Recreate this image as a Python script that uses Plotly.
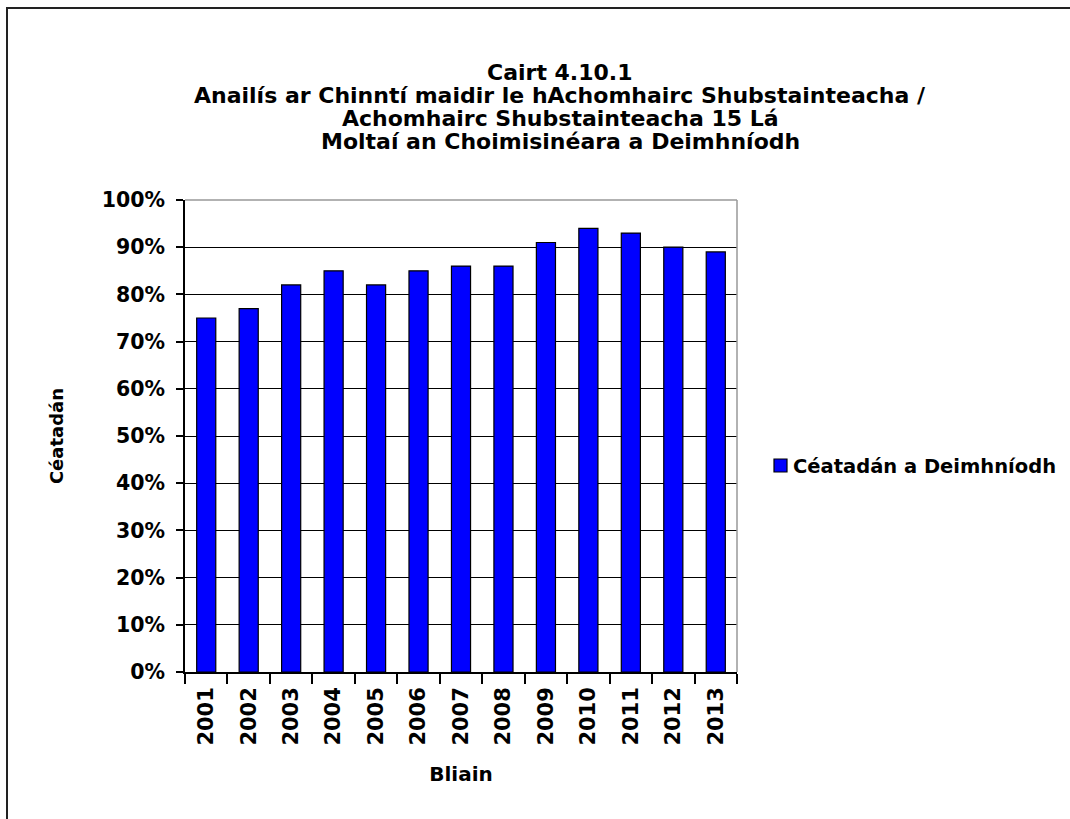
import plotly.graph_objects as go

years = ["2001", "2002", "2003", "2004", "2005", "2006", "2007", "2008", "2009", "2010", "2011", "2012", "2013"]
values = [75, 77, 82, 85, 82, 85, 86, 86, 91, 94, 93, 90, 89]
series_name = "Céatadán a Deimhníodh"
title_lines = ["Cairt 4.10.1",
               "Anailís ar Chinntí maidir le hAchomhairc Shubstainteacha /",
               "Achomhairc Shubstainteacha 15 Lá",
               "Moltaí an Choimisinéara a Deimhníodh"]
y_title = "Céatadán"
x_title = "Bliain"

W, H = 1070, 819
L, R, T, B = 185, 737, 200, 672

def px(x):
    return (x - L) / (R - L)

def py(y):
    return (B - y) / (B - T)

FONT = "DejaVu Sans, Liberation Sans, Arial, sans-serif"

fig = go.Figure()
fig.add_trace(go.Bar(
    x=years, y=values, name=series_name,
    marker=dict(color="#0000FF", line=dict(color="black", width=1.2)),
    showlegend=False,
))

annotations = []
title_y = [73, 96, 118, 141]
for line, yy in zip(title_lines, title_y):
    annotations.append(dict(
        text=line, xref="paper", yref="paper", x=px(560), y=py(yy),
        xanchor="center", yanchor="middle", showarrow=False,
        font=dict(family=FONT, size=22, color="black", weight="bold"),
    ))
# legend text
annotations.append(dict(
    text=series_name, xref="paper", yref="paper", x=px(791), y=py(466),
    xanchor="left", yanchor="middle", showarrow=False,
    font=dict(family=FONT, size=19.5, color="black", weight="bold"),
))

fig.update_layout(
    width=W, height=H,
    margin=dict(l=L, r=W - R, t=T, b=H - B, autoexpand=False),
    paper_bgcolor="white", plot_bgcolor="white",
    bargap=0.55,
    showlegend=False,
    xaxis=dict(
        type="category",
        showline=True, linecolor="black", linewidth=1.5,
        ticks="outside", ticklen=10, tickcolor="black", tickwidth=1.5,
        tickson="boundaries",
        tickangle=-90,
        ticklabelstandoff=5,
        tickfont=dict(family=FONT, size=21, color="black", weight="bold"),
        title=dict(text=x_title, font=dict(family=FONT, size=20, color="black", weight="bold"), standoff=22),
        showgrid=False,
    ),
    yaxis=dict(
        range=[0, 100], dtick=10, tick0=0,
        ticksuffix="%",
        showline=True, linecolor="black", linewidth=1.5,
        ticks="outside", ticklen=7, tickcolor="black", tickwidth=1.5,
        ticklabelstandoff=7,
        tickfont=dict(family=FONT, size=20.5, color="black", weight="bold"),
        showgrid=True, gridcolor="black", gridwidth=1.2,
        zeroline=False,
        title=dict(text=y_title, font=dict(family=FONT, size=18, color="black", weight="bold"), standoff=34),
    ),
    annotations=annotations,
    shapes=[
        # outer frame
        dict(type="rect", xref="paper", yref="paper",
             x0=px(7), x1=px(1090), y0=py(840), y1=py(8),
             line=dict(color="#222222", width=2), layer="below"),
        # plot-area border (top/right in gray)
        dict(type="line", xref="paper", yref="paper", x0=0, x1=1, y0=1, y1=1,
             line=dict(color="#999999", width=1.5)),
        dict(type="line", xref="paper", yref="paper", x0=1, x1=1, y0=0, y1=1,
             line=dict(color="#999999", width=1.5)),
        # legend key
        dict(type="rect", xref="paper", yref="paper",
             x0=px(774), x1=px(787), y0=py(472), y1=py(459),
             fillcolor="#0000FF", line=dict(color="black", width=1.2)),
    ],
)

fig.write_html(
    "out.html",
    config={"displayModeBar": False},
    post_script="document.body.style.margin='0';document.body.style.overflow='hidden';",
)
